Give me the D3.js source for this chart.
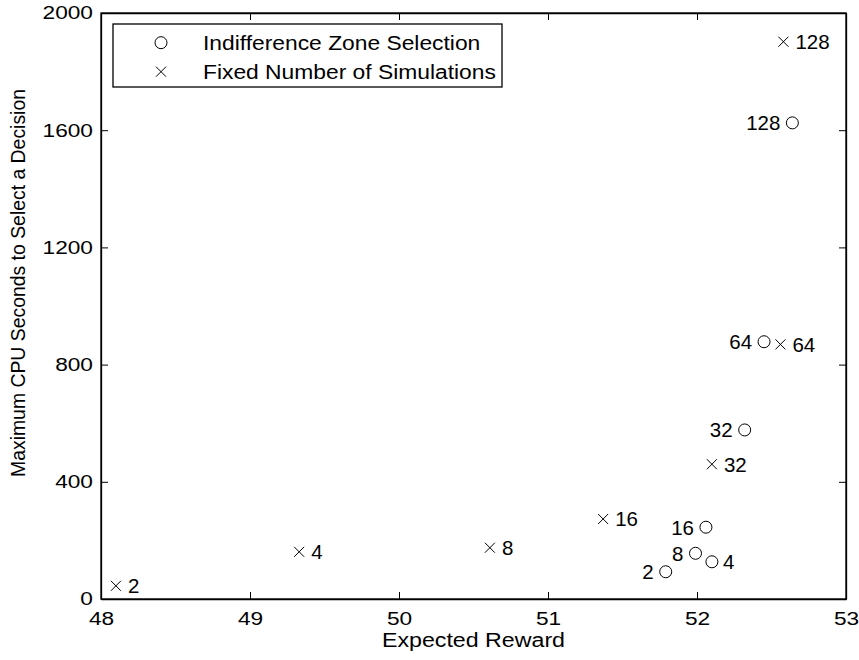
<!DOCTYPE html>
<html>
<head>
<meta charset="utf-8">
<script src="https://cdn.jsdelivr.net/npm/d3@7"></script>
<style>
  body { margin: 0; background: #fff; }
  text { font-family: "Liberation Sans", Arial, Helvetica, sans-serif; fill: #000; }
</style>
</head>
<body>
<div id="chart"></div>
<script>
// values
var sims = [2, 4, 8, 16, 32, 64, 128];
var izsReward = [51.79, 52.10,51.99, 52.06, 52.32, 52.45, 52.64];
var izsCpu = [93, 127, 156, 245, 577, 878, 1625];
var fixedReward = [48.10, 49.33, 50.61, 51.37, 52.10, 52.56, 52.58];
var fixedCpu = [45, 161, 175, 273, 460, 869, 1902];
var xTicks = [48, 49, 50, 51, 52, 53];
var yTicks = [0, 400, 800, 1200, 1600, 2000];
var legendNames = ["Indifference Zone Selection", "Fixed Number of Simulations"];
// circle labels go left, except the "4" one
var izsLabelSide = ["left", "right", "left", "left", "left", "left", "left"];

var W = 859, H = 660;
var margin = {top: 13, right: 13, bottom: 61, left: 101};
var sx = 1.22; // the original text is drawn a bit wide

var svg = d3.select("#chart").append("svg").attr("width", W).attr("height", H);

var x = d3.scaleLinear().domain([48, 53]).range([margin.left, W - margin.right]);
var y = d3.scaleLinear().domain([0, 2000]).range([H - margin.bottom, margin.top]);
var tickLen = 7;

// axes with inward ticks on all four sides
svg.append("g").attr("transform", `translate(0,${y(0)})`)
  .call(d3.axisBottom(x).tickValues(xTicks).tickSizeInner(-tickLen).tickSizeOuter(0).tickPadding(13).tickFormat(d3.format("d")));
svg.append("g").attr("transform", `translate(0,${y(2000)})`)
  .call(d3.axisTop(x).tickValues(xTicks).tickSizeInner(-tickLen).tickSizeOuter(0).tickFormat(""));
svg.append("g").attr("class", "yax").attr("transform", `translate(${x(48)},0)`)
  .call(d3.axisLeft(y).tickValues(yTicks).tickSizeInner(-tickLen).tickSizeOuter(0).tickPadding(8 / sx).tickFormat(d3.format("d")));
svg.append("g").attr("transform", `translate(${x(53)},0)`)
  .call(d3.axisRight(y).tickValues(yTicks).tickSizeInner(-tickLen).tickSizeOuter(0).tickFormat(""));

svg.selectAll(".domain").attr("stroke", "#000").attr("stroke-width", 1.3);
svg.selectAll(".tick line").attr("stroke", "#000").attr("stroke-width", 1);
svg.selectAll(".tick text").attr("font-size", 18.6).attr("fill", "#000")
  .attr("transform", `scale(${sx},1)`);

svg.append("rect").attr("x", x(48)).attr("y", y(2000)).attr("width", x(53) - x(48)).attr("height", y(0) - y(2000))
  .attr("fill", "none").attr("stroke", "#000").attr("stroke-width", 1.3);

// axis titles
var tsx = 1.19;
svg.append("text").attr("x", (x(48) + x(53)) / 2 / tsx).attr("y", 647)
  .attr("transform", `scale(${tsx},1)`)
  .attr("text-anchor", "middle").attr("font-size", 19.5).text("Expected Reward");
svg.append("text").attr("transform", "translate(25,283) rotate(-90)")
  .attr("text-anchor", "middle").attr("font-size", 19.4).text("Maximum CPU Seconds to Select a Decision");

// markers
var crossPath = function (cx, cy, s) {
  return `M${cx - s},${cy - s}L${cx + s},${cy + s}M${cx - s},${cy + s}L${cx + s},${cy - s}`;
};

var izs = sims.map(function (s, i) { return {n: s, r: izsReward[i], c: izsCpu[i], side: izsLabelSide[i]}; });
var fixed = sims.map(function (s, i) { return {n: s, r: fixedReward[i], c: fixedCpu[i]}; });

svg.append("g").selectAll("circle").data(izs).enter().append("circle")
  .attr("cx", d => x(d.r)).attr("cy", d => y(d.c)).attr("r", 6)
  .attr("fill", "none").attr("stroke", "#000").attr("stroke-width", 1);
svg.append("g").selectAll("text").data(izs).enter().append("text")
  .attr("x", d => d.side == "left" ? x(d.r) - 12 : x(d.r) + 11)
  .attr("y", d => y(d.c)).attr("dy", "0.36em")
  .attr("text-anchor", d => d.side == "left" ? "end" : "start")
  .attr("font-size", 20.5).text(d => d.n);

svg.append("g").selectAll("path").data(fixed).enter().append("path")
  .attr("d", d => crossPath(x(d.r), y(d.c), 5))
  .attr("stroke", "#000").attr("stroke-width", 1).attr("fill", "none");
svg.append("g").selectAll("text").data(fixed).enter().append("text")
  .attr("x", d => x(d.r) + 12).attr("y", d => y(d.c)).attr("dy", "0.36em")
  .attr("font-size", 20.5).text(d => d.n);

// legend
var lsx = 1.17;
var lg = svg.append("g");
lg.append("rect").attr("x", 113).attr("y", 24).attr("width", 389).attr("height", 63)
  .attr("fill", "#fff").attr("stroke", "#000").attr("stroke-width", 1.3);
lg.append("circle").attr("cx", 161).attr("cy", 42.7).attr("r", 6)
  .attr("fill", "none").attr("stroke", "#000");
lg.append("path").attr("d", crossPath(161, 71.7, 5)).attr("stroke", "#000").attr("fill", "none");
lg.selectAll("text.leg").data(legendNames).enter().append("text").attr("class", "leg")
  .attr("x", 203 / lsx).attr("y", (d, i) => 42.7 + i * 29).attr("dy", "0.36em")
  .attr("transform", `scale(${lsx},1)`)
  .attr("font-size", 19.5).text(d => d);
</script>
</body>
</html>
